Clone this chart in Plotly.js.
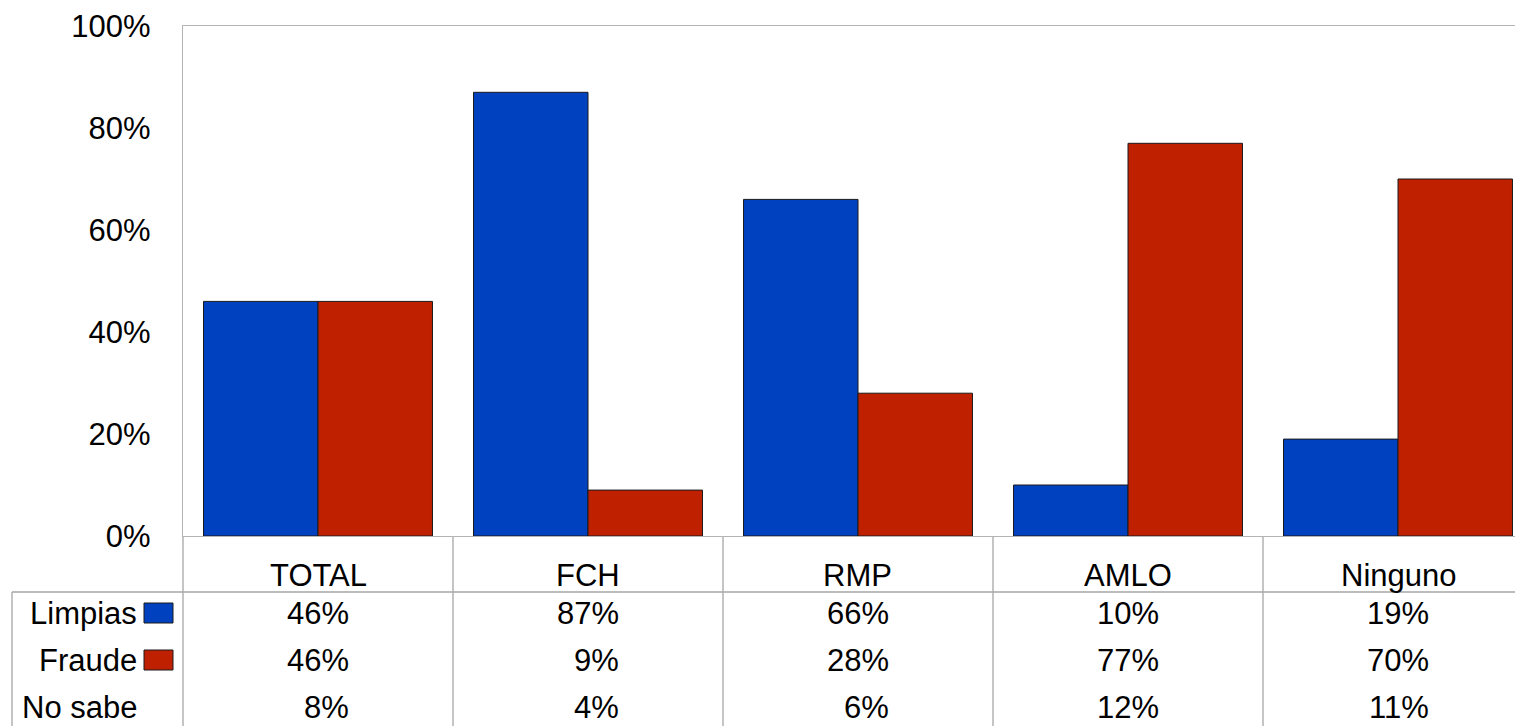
<!DOCTYPE html>
<html><head><meta charset="utf-8">
<script src="https://cdn.plot.ly/plotly-3.0.1.min.js"></script>
<style>html,body{margin:0;padding:0;overflow:hidden;background:#fff}</style>
</head><body>
<div id="chart" style="width:1515px;height:726px"></div>
<script>
const categories = ["TOTAL", "FCH", "RMP", "AMLO", "Ninguno"];
const seriesNames = ["Limpias", "Fraude", "No sabe"];
const limpias = [46, 87, 66, 10, 19];
const fraude = [46, 9, 28, 77, 70];
const noSabe = [8, 4, 6, 12, 11];
const yTicks = [0, 20, 40, 60, 80, 100];
const yTickLabels = ["0%", "20%", "40%", "60%", "80%", "100%"];

const blue = "#0041BF", red = "#BF2100";
const W = 1515, H = 726;
const mL = 183, mT = 26, mB = 190, mR = 0;
const plotW = W - mL - mR, plotH = H - mT - mB;
const catW = 270;
const xmin = -0.5, xmax = xmin + plotW / catW;
const FONT = '"Liberation Sans", Arial, sans-serif';
const fs = 31;

const px2paperX = p => (p - mL) / plotW;
const px2paperY = p => (H - mB - p) / plotH;
const x2paper = x => (x - xmin) / (xmax - xmin);

const idx = categories.map((c, i) => i);
const traces = [
  {type: "bar", x: idx, y: limpias, name: seriesNames[0], marker: {color: blue, line: {color: "#1a1a1a", width: 1}}, hoverinfo: "skip"},
  {type: "bar", x: idx, y: fraude, name: seriesNames[1], marker: {color: red, line: {color: "#1a1a1a", width: 1}}, hoverinfo: "skip"}
];

const shapes = [];
const annotations = [];
const gridCol = "#a6a6a6";
// table lines
const tTop = px2paperY(537), tBot = px2paperY(H + 5), rowLine = px2paperY(592);
for (let i = 0; i < categories.length; i++) {
  const xb = x2paper(i - 0.5);
  shapes.push({type: "line", xref: "paper", yref: "paper", x0: xb, x1: xb, y0: tTop, y1: tBot, line: {color: gridCol, width: 1.3}});
}
shapes.push({type: "line", xref: "paper", yref: "paper", x0: px2paperX(12), x1: 1.01, y0: rowLine, y1: rowLine, line: {color: gridCol, width: 1.3}});
shapes.push({type: "line", xref: "paper", yref: "paper", x0: px2paperX(12), x1: px2paperX(12), y0: rowLine, y1: tBot, line: {color: gridCol, width: 1.3}});

// category labels
categories.forEach((c, i) => {
  annotations.push({xref: "paper", yref: "paper", x: x2paper(i), y: px2paperY(575), text: c, showarrow: false, xanchor: "center", yanchor: "middle", font: {family: FONT, size: fs, color: "#000"}});
});
// rows
const rows = [limpias, fraude, noSabe];
const rowY = [613, 660, 707];
const swatchCols = [blue, red, null];
rows.forEach((vals, r) => {
  annotations.push({xref: "paper", yref: "paper", x: px2paperX(139), y: px2paperY(rowY[r]), text: seriesNames[r], showarrow: false, xanchor: "right", yanchor: "middle", font: {family: FONT, size: fs, color: "#000"}});
  if (swatchCols[r]) {
    shapes.push({type: "rect", xref: "paper", yref: "paper", x0: px2paperX(144), x1: px2paperX(173), y0: px2paperY(rowY[r] - 10), y1: px2paperY(rowY[r] + 10), fillcolor: swatchCols[r], line: {color: "#1a1a1a", width: 1}});
  }
  vals.forEach((v, i) => {
    annotations.push({xref: "paper", yref: "paper", x: x2paper(i), xshift: 33, y: px2paperY(rowY[r]), text: v + "%", showarrow: false, xanchor: "right", yanchor: "middle", font: {family: FONT, size: fs, color: "#000"}});
  });
});

const layout = {
  width: W, height: H,
  margin: {l: mL, r: mR, t: mT, b: mB, pad: 0},
  paper_bgcolor: "#fff", plot_bgcolor: "#fff",
  showlegend: false,
  barmode: "group", bargap: 0.152, bargroupgap: 0,
  font: {family: FONT, size: fs, color: "#000"},
  xaxis: {range: [xmin, xmax], showticklabels: false, ticks: "", showgrid: false, zeroline: false,
          showline: true, mirror: true, linecolor: "#b3b3b3", linewidth: 1.3, fixedrange: true},
  yaxis: {range: [0, 100], tickvals: yTicks, ticktext: yTickLabels, ticks: "outside", ticklen: 0, ticklabelstandoff: 25,
          showgrid: false, zeroline: false, showline: true, linecolor: "#b3b3b3", linewidth: 1.3,
          tickfont: {family: FONT, size: fs, color: "#000"}, fixedrange: true},
  shapes: shapes,
  annotations: annotations
};
Plotly.newPlot("chart", traces, layout, {displayModeBar: false, staticPlot: true});
</script>
</body></html>
